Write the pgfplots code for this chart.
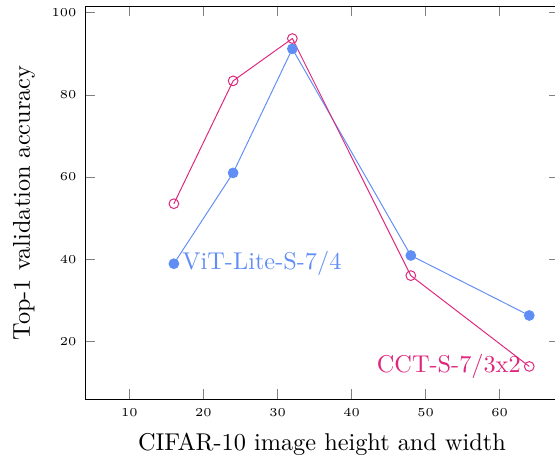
\documentclass[border=0pt]{standalone}
\usepackage{pgfplots}
\pgfplotsset{compat=1.18}
\definecolor{vitblue}{RGB}{96,142,245}
\definecolor{cctpink}{RGB}{222,38,124}
\begin{document}
\begin{tikzpicture}
\begin{axis}[
  name=ax,
  scale only axis,
  width=195pt, height=162pt,
  xmin=4, xmax=68,
  ymin=5.8, ymax=101.6,
  xtick={10,20,30,40,50,60},
  ytick={20,40,60,80,100},
  tick label style={font=\tiny},
  xlabel={CIFAR-10 image height and width},
  ylabel={Top-1 validation accuracy},
]
\addplot[color=vitblue, mark=*, mark options={fill=vitblue}] coordinates {
  (16,38.9) (24,61.0) (32,91.2) (48,40.9) (64,26.3)
} node[pos=0, anchor=west, text=vitblue] {ViT-Lite-S-7/4};
\addplot[color=cctpink, mark=o] coordinates {
  (16,53.5) (24,83.4) (32,93.7) (48,36.0) (64,13.9)
} node[pos=1, anchor=east, text=cctpink] {CCT-S-7/3x2};
\end{axis}
\pgfresetboundingbox
\path[use as bounding box] ([xshift=-35pt,yshift=-24.7pt]ax.south west) rectangle ([xshift=-1.6pt,yshift=2.5pt]ax.north east);
\end{tikzpicture}
\end{document}
